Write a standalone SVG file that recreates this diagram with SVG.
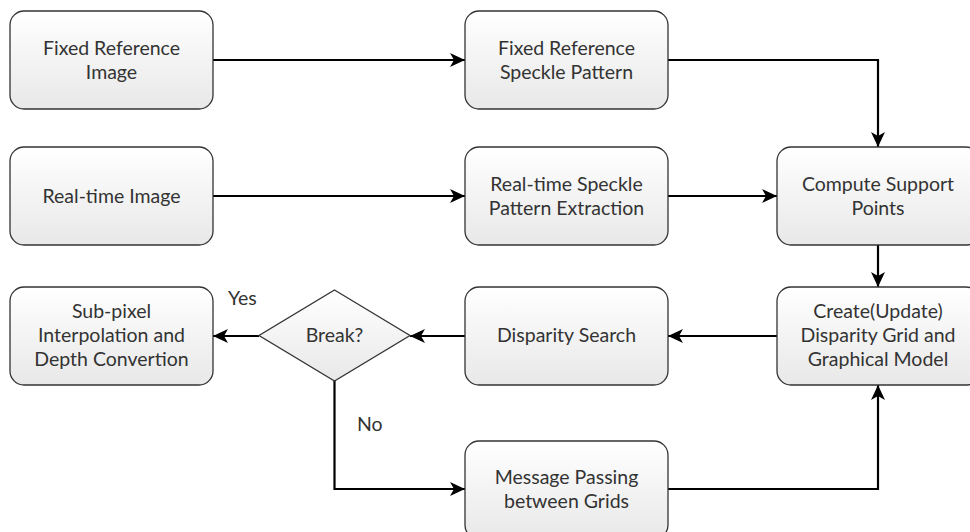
<svg xmlns="http://www.w3.org/2000/svg" width="970" height="532" viewBox="0 0 970 532">
  <defs>
    <linearGradient id="boxFill" x1="0" y1="0" x2="0" y2="1">
      <stop offset="0" stop-color="#ffffff"/>
      <stop offset="1" stop-color="#e8e8e8"/>
    </linearGradient>
    <marker id="arrow" markerUnits="userSpaceOnUse" markerWidth="16" markerHeight="14" refX="15" refY="7" orient="auto">
      <path d="M0,0 L15,7 L0,14 L4,7 Z" fill="#000"/>
    </marker>
  </defs>
  <style>
    .box { fill: url(#boxFill); stroke: #333; stroke-width: 1.3; }
    .lbl { font-family: "Lato", "Open Sans", "Liberation Sans", sans-serif; font-size: 19.5px; fill: #333; text-anchor: middle; }
    .edge { fill: none; stroke: #000; stroke-width: 2.2; marker-end: url(#arrow); }
    .tag { font-family: "Lato", "Open Sans", "Liberation Sans", sans-serif; font-size: 19.5px; fill: #333; }
  </style>
  <rect width="970" height="532" fill="#fff"/>

  <g id="connectors">
    <path class="edge" d="M213,60 H465"/>
    <path class="edge" d="M668,60 H878 V147"/>
    <path class="edge" d="M213,196 H465"/>
    <path class="edge" d="M668,196 H777"/>
    <path class="edge" d="M878,245 V287"/>
    <path class="edge" d="M777,336 H668"/>
    <path class="edge" d="M465,336 H410"/>
    <path class="edge" d="M259,336 H213"/>
    <path class="edge" d="M334.5,380 V489 H465"/>
    <path class="edge" d="M668,489 H878 V385"/>
    <text class="tag" x="228" y="305">Yes</text>
    <text class="tag" x="357" y="431">No</text>
  </g>

  <g id="fixed-reference-image">
    <rect class="box" x="10" y="11" width="203" height="98" rx="14"/>
    <text class="lbl" x="111.5" y="55">Fixed Reference</text>
    <text class="lbl" x="111.5" y="79">Image</text>
  </g>
  <g id="fixed-reference-speckle">
    <rect class="box" x="465" y="11" width="203" height="98" rx="14"/>
    <text class="lbl" x="566.5" y="55">Fixed Reference</text>
    <text class="lbl" x="566.5" y="79">Speckle Pattern</text>
  </g>
  <g id="real-time-image">
    <rect class="box" x="10" y="147" width="203" height="98" rx="14"/>
    <text class="lbl" x="111.5" y="203">Real-time Image</text>
  </g>
  <g id="real-time-speckle">
    <rect class="box" x="465" y="147" width="203" height="98" rx="14"/>
    <text class="lbl" x="566.5" y="191">Real-time Speckle</text>
    <text class="lbl" x="566.5" y="215">Pattern Extraction</text>
  </g>
  <g id="compute-support-points">
    <rect class="box" x="777" y="147" width="203" height="98" rx="14"/>
    <text class="lbl" x="878" y="191">Compute Support</text>
    <text class="lbl" x="878" y="215">Points</text>
  </g>
  <g id="sub-pixel-interpolation">
    <rect class="box" x="10" y="287" width="203" height="98" rx="14"/>
    <text class="lbl" x="111.5" y="318">Sub-pixel</text>
    <text class="lbl" x="111.5" y="342">Interpolation and</text>
    <text class="lbl" x="111.5" y="366">Depth Convertion</text>
  </g>
  <g id="break-decision">
    <polygon class="box" points="334.5,290 410,335.5 334.5,381 259,335.5"/>
    <text class="lbl" x="334.5" y="342">Break?</text>
  </g>
  <g id="disparity-search">
    <rect class="box" x="465" y="287" width="203" height="98" rx="14"/>
    <text class="lbl" x="566.5" y="342">Disparity Search</text>
  </g>
  <g id="create-update-grid">
    <rect class="box" x="777" y="287" width="203" height="98" rx="14"/>
    <text class="lbl" x="878" y="318">Create(Update)</text>
    <text class="lbl" x="878" y="342">Disparity Grid and</text>
    <text class="lbl" x="878" y="366">Graphical  Model</text>
  </g>
  <g id="message-passing">
    <rect class="box" x="465" y="441" width="203" height="98" rx="14"/>
    <text class="lbl" x="566.5" y="484">Message Passing</text>
    <text class="lbl" x="566.5" y="508">between Grids</text>
  </g>
</svg>
